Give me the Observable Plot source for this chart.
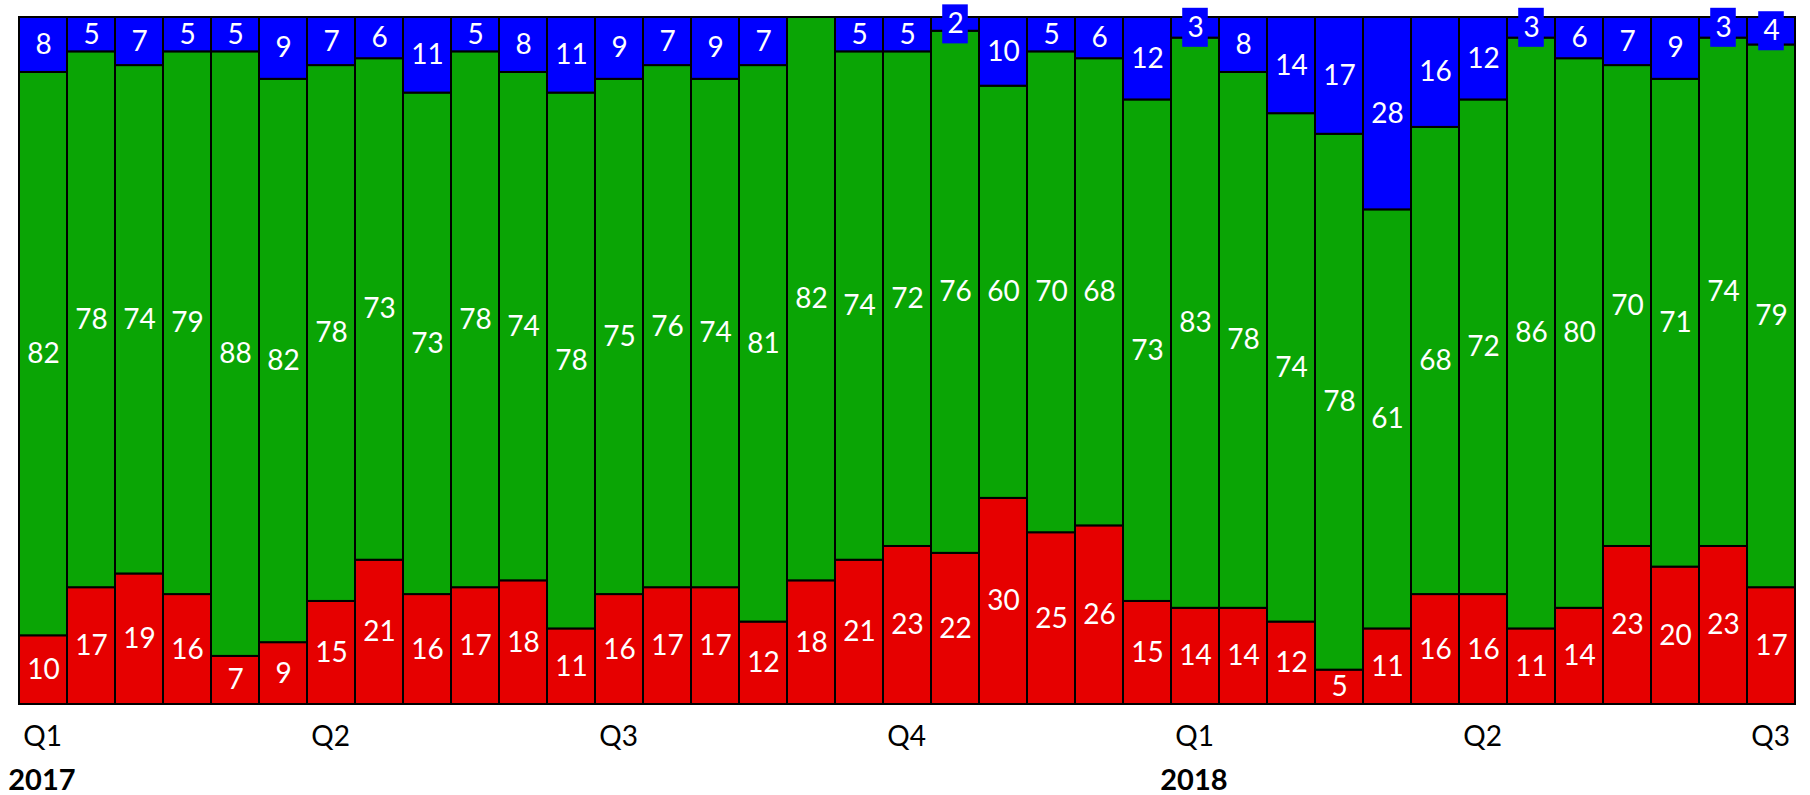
<!DOCTYPE html>
<html>
<head>
<meta charset="utf-8">
<script src="https://cdn.jsdelivr.net/npm/d3@7"></script>
<script src="https://cdn.jsdelivr.net/npm/@observablehq/plot@0.6"></script>
<style>
  html, body { margin: 0; padding: 0; background: #fff; }
  #chart svg { display: block; }
</style>
</head>
<body>
<div id="chart"></div>
<script>
const redVals   = [10,17,19,16,7,9,15,21,16,17,18,11,16,17,17,12,18,21,23,22,30,25,26,15,14,14,12,5,11,16,16,11,14,23,20,23,17];
const greenVals = [82,78,74,79,88,82,78,73,73,78,74,78,75,76,74,81,82,74,72,76,60,70,68,73,83,78,74,78,61,68,72,86,80,70,71,74,79];
const blueVals  = [8,5,7,5,5,9,7,6,11,5,8,11,9,7,9,7,0,5,5,2,10,5,6,12,3,8,14,17,28,16,12,3,6,7,9,3,4];
const seriesNames = ["bottom", "middle", "top"];
const seriesColors = ["#E60000", "#0AA505", "#0000FF"];
const quarterLabels = ["Q1","Q2","Q3","Q4","Q1","Q2","Q3"];
const quarterIndex = [0,6,12,18,24,30,36];
const yearLabels = ["2017","2018"];
const yearIndex = [0,24];

const n = redVals.length;
const table = [];
for (let i = 0; i < n; i++) {
  table.push({i, series: seriesNames[0], value: redVals[i]});
  table.push({i, series: seriesNames[1], value: greenVals[i]});
  table.push({i, series: seriesNames[2], value: blueVals[i]});
}
const quarters = quarterLabels.map((q, k) => ({i: quarterIndex[k], q}));
const years = yearLabels.map((y, k) => ({i: yearIndex[k], y}));

// Label boxes for small blue segments whose label overflows the segment
const boxHalf = 2.84; // in percentage units (label box half-height)
const smallBlue = blueVals.map((v, i) => ({i, v})).filter(d => d.v > 0 && d.v < 5)
  .map(d => ({i: d.i, y1: 100 - d.v / 2 - boxHalf, y2: 100 - d.v / 2 + boxHalf}));

const W = 1810;
const mL = 11, mR = 7;
const bw = (W - mL - mR) / n;

const chart = Plot.plot({
  width: W,
  height: 795,
  marginTop: 17,
  marginBottom: 91,
  marginLeft: mL,
  marginRight: mR,
  x: {type: "band", domain: d3.range(n), padding: 0, axis: null},
  y: {domain: [0, 100], axis: null},
  color: {type: "ordinal", domain: seriesNames, range: seriesColors},
  style: {fontFamily: "Lato, 'Open Sans', sans-serif", background: "white", overflow: "visible"},
  marks: [
    Plot.barY(table, Plot.stackY({x: "i", y: "value", fill: "series", stroke: "black", strokeWidth: 2})),
    Plot.barY(smallBlue, {x: "i", y1: "y1", y2: "y2", fill: seriesColors[2], insetLeft: (bw - 26) / 2, insetRight: (bw - 26) / 2}),
    Plot.text(table, Plot.stackY({x: "i", y: "value", text: d => d.value > 0 ? String(d.value) : null, fill: "white", fontSize: 28, lineAnchor: "middle"})),
    Plot.text(quarters, {x: "i", text: "q", frameAnchor: "bottom", dy: 33, dx: -bw / 2 + 4, textAnchor: "start", lineAnchor: "middle", fontSize: 28, fill: "black"}),
    Plot.text(years, {x: "i", text: "y", frameAnchor: "bottom", dy: 76, dx: -bw / 2 - 11, textAnchor: "start", lineAnchor: "middle", fontSize: 29, fontWeight: "bold", fill: "black"})
  ]
});
document.getElementById("chart").appendChild(chart);
</script>
</body>
</html>
